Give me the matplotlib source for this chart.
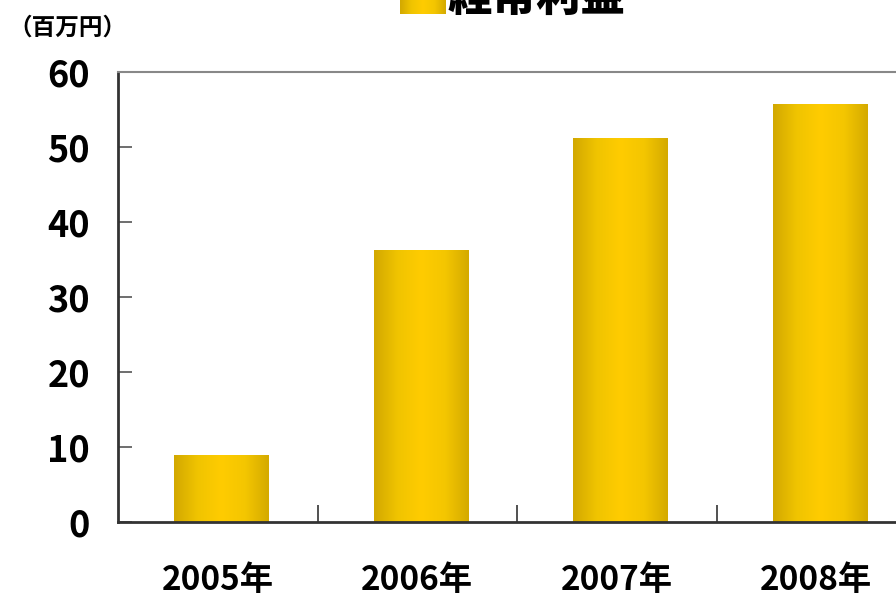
import numpy as np
import matplotlib.pyplot as plt
from matplotlib.colors import LinearSegmentedColormap

# data
years = ["2005年", "2006年", "2007年", "2008年"]
profit = [8.9, 36.3, 51.2, 55.7]  # 経常利益 (百万円)
y_ticks = [0, 10, 20, 30, 40, 50, 60]

num_font = ["DejaVu Sans Condensed", "Liberation Sans Narrow", "Noto Sans CJK JP"]
jp_font = ["Noto Sans CJK JP", "DejaVu Sans"]

# gold gradient: darker edges, bright center
gold = LinearSegmentedColormap.from_list(
    "gold", ["#D2A800", "#F0C400", "#FFCC00", "#F4C600", "#D4AA00"]
)
grad = np.linspace(0, 1, 256).reshape(1, -1)

fig = plt.figure(figsize=(8.96, 5.95), dpi=100)
ax = fig.add_axes([118 / 896, 73 / 595, 798 / 896, 450 / 595])

x = np.arange(len(years))
bars = ax.bar(x + 0.02, profit, width=0.476, facecolor="none", edgecolor="none")
for b in bars:
    x0, y0 = b.get_x(), b.get_y()
    im = ax.imshow(grad, cmap=gold, aspect="auto",
                   extent=(x0, x0 + b.get_width(), y0, y0 + b.get_height()),
                   zorder=2)
    im.set_clip_path(b)

ax.set_xlim(-0.5, len(years) - 0.5)
ax.set_ylim(0, 60)

# y axis
ax.set_yticks(y_ticks)
ax.set_yticklabels([str(v) for v in y_ticks], fontsize=26, fontweight="bold",
                   family=num_font, fontstretch="condensed")
ax.tick_params(axis="y", direction="in", length=10, width=1.2, color="#555555",
               pad=20)

# x axis: ticks between categories, labels at centers
ax.set_xticks(x[:-1] + 0.5)
ax.set_xticklabels([])
ax.tick_params(axis="x", which="major", direction="in", length=12, width=1.2,
               color="#333333")
ax.set_xticks(x, minor=True)
ax.set_xticklabels(years, minor=True, fontsize=24, fontweight="bold",
                   family=num_font, fontstretch="condensed")
ax.tick_params(axis="x", which="minor", length=0, pad=30)

for side in ["left", "bottom"]:
    ax.spines[side].set_linewidth(2)
    ax.spines[side].set_color("#333333")
ax.spines["top"].set_color("#888888")
ax.spines["top"].set_linewidth(1.5)
ax.spines["right"].set_visible(False)

# unit label
fig.text(8 / 896, 1 - 35 / 595, "（百万円）", fontsize=17, fontweight="bold",
         family=jp_font, ha="left", va="baseline")

# legend / title at top (partly cut off, as in the original)
lax = fig.add_axes([400 / 896, 1 - 14 / 595, 45 / 896, 45 / 595])
lax.imshow(grad, cmap=gold, aspect="auto")
lax.axis("off")
fig.text(448 / 896, 1 - 11 / 595, "経常利益", fontsize=32, fontweight="heavy",
         family=jp_font, ha="left", va="baseline")

plt.savefig("out.png", dpi=100)
